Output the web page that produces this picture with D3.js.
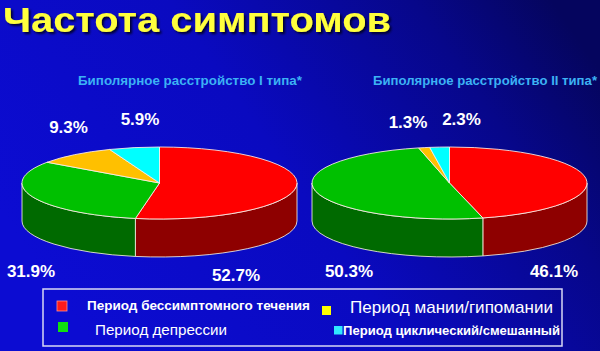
<!DOCTYPE html>
<html><head><meta charset="utf-8">
<script src="https://cdn.jsdelivr.net/npm/d3@7"></script>
<style>html,body{margin:0;padding:0;background:#0808a0;overflow:hidden}</style>
</head><body>
<script>
// ---------- data ----------
const title = "Частота симптомов";
const categories = ["Период бессимптомного течения","Период депрессии","Период мании/гипомании","Период циклический/смешанный"];
const pieTitles = ["Биполярное расстройство I типа*","Биполярное расстройство II типа*"];
const valuesType1 = [52.7, 31.9, 9.3, 5.9];
const valuesType2 = [46.1, 50.3, 1.3, 2.3];
const labelsType1 = ["52.7%","31.9%","9.3%","5.9%"];
const labelsType2 = ["46.1%","50.3%","1.3%","2.3%"];

// ---------- styles / layout ----------
const W = 600, H = 351;
const topColors  = ["#ff0000","#00c000","#ffc000","#00ffff"];
const sideColors = ["#8e0000","#006a00","#9a7400","#009a9a"];
const legendColors = ["#ff1a1a","#10e010","#ffff00","#30e8ff"];
const pies = [
  {cx:159.5, values:valuesType1, labels:labelsType1, title:pieTitles[0],
   labelOff:[[76.5,92],[-128.5,88],[-91,-56],[-19.5,-64]], titleX:190},
  {cx:449.5, values:valuesType2, labels:labelsType2, title:pieTitles[1],
   labelOff:[[104.5,88],[-100.5,88],[-41.5,-61],[12,-64]], titleX:485}
];
const CY = 183, RX = 137.5, RY = 36, DEPTH = 38;

const svg = d3.select("body").append("svg").attr("width",W).attr("height",H)
  .style("display","block");
const defs = svg.append("defs");
const bg = defs.append("linearGradient").attr("id","bg")
  .attr("x1","0").attr("y1","0.6").attr("x2","1").attr("y2","0.2");
bg.append("stop").attr("offset","0").attr("stop-color","#0c0cd2");
bg.append("stop").attr("offset","0.45").attr("stop-color","#0a0ac0");
bg.append("stop").attr("offset","0.8").attr("stop-color","#07078a");
bg.append("stop").attr("offset","1").attr("stop-color","#05055e");
const sh = defs.append("filter").attr("id","shadow").attr("x","-5%").attr("y","-20%")
  .attr("width","110%").attr("height","150%");
sh.append("feDropShadow").attr("dx",2).attr("dy",2).attr("stdDeviation",0.8)
  .attr("flood-color","#000020").attr("flood-opacity",0.9);
svg.append("rect").attr("width",W).attr("height",H).attr("fill","url(#bg)");

// title
svg.append("text").attr("x",3).attr("y",32).text(title)
  .attr("font-family","Liberation Sans, Arial, sans-serif").attr("font-weight","bold")
  .attr("font-size",35).attr("fill","#ffff3c").attr("filter","url(#shadow)")
  .attr("textLength",388).attr("lengthAdjust","spacingAndGlyphs");

const pieGen = d3.pie().sort(null).startAngle(0).endAngle(2*Math.PI);

function pt(cx, cy, a){ return [cx + RX*Math.sin(a), cy - RY*Math.cos(a)]; }

pies.forEach(p => {
  const arcs = pieGen(p.values);
  const g = svg.append("g");
  // side walls (front half: angle between PI/2 and 3PI/2)
  arcs.forEach((d,i) => {
    const a0 = Math.max(d.startAngle, Math.PI/2), a1 = Math.min(d.endAngle, 3*Math.PI/2);
    if (a1 <= a0) return;
    const p0 = pt(p.cx, CY, a0), p1 = pt(p.cx, CY, a1);
    const large = (a1 - a0) > Math.PI ? 1 : 0;
    const path = `M${p0[0]},${p0[1]} A${RX},${RY} 0 ${large} 1 ${p1[0]},${p1[1]}` +
      ` L${p1[0]},${p1[1]+DEPTH} A${RX},${RY} 0 ${large} 0 ${p0[0]},${p0[1]+DEPTH} Z`;
    g.append("path").attr("d",path).attr("fill",sideColors[i])
      .attr("stroke","#f4eedc").attr("stroke-opacity",0.85).attr("stroke-width",1);
  });
  // top faces
  arcs.forEach((d,i) => {
    const p0 = pt(p.cx, CY, d.startAngle), p1 = pt(p.cx, CY, d.endAngle);
    const large = (d.endAngle - d.startAngle) > Math.PI ? 1 : 0;
    const path = `M${p.cx},${CY} L${p0[0]},${p0[1]} A${RX},${RY} 0 ${large} 1 ${p1[0]},${p1[1]} Z`;
    g.append("path").attr("d",path).attr("fill",topColors[i])
      .attr("stroke","#fff0e8").attr("stroke-opacity",0.85).attr("stroke-width",1)
      .attr("stroke-linejoin","round");
  });
  // pie title
  svg.append("text").attr("x",p.titleX).attr("y",85).attr("text-anchor","middle")
    .attr("font-family","Liberation Sans, Arial, sans-serif").attr("font-weight","bold")
    .attr("font-size",12).attr("fill","#3cb2f4")
    .attr("textLength",224).attr("lengthAdjust","spacingAndGlyphs").text(p.title);
  // value labels
  p.labels.forEach((t,i) => {
    svg.append("text").attr("x",p.cx + p.labelOff[i][0]).attr("y",CY + p.labelOff[i][1] + 6)
      .attr("text-anchor","middle")
      .attr("font-family","Liberation Sans, Arial, sans-serif").attr("font-weight","bold")
      .attr("font-size",17).attr("fill","#ffffff").text(t);
  });
});

// legend
svg.append("rect").attr("x",43).attr("y",289).attr("width",519).attr("height",57)
  .attr("fill","none").attr("stroke","#d8d8f4").attr("stroke-width",1.5);
const legendLayout = [
  {sx:57, sy:301, s:10, tx:87, ty:309.5, fs:12.6, fw:"bold", tl:223},
  {sx:58, sy:322, s:10, tx:95, ty:334.5, fs:15, fw:"normal", tl:132},
  {sx:322, sy:306, s:9, tx:350, ty:313, fs:17, fw:"normal", tl:203},
  {sx:334, sy:326, s:8.5, tx:343, ty:334.5, fs:12.4, fw:"bold", tl:217}
];
categories.forEach((c,i) => {
  const L = legendLayout[i];
  svg.append("rect").attr("x",L.sx).attr("y",L.sy).attr("width",L.s).attr("height",L.s)
    .attr("fill",legendColors[i]).attr("stroke", i===0 ? "#ff9090" : "none").attr("stroke-width",0.8);
  svg.append("text").attr("x",L.tx).attr("y",L.ty)
    .attr("font-family","Liberation Sans, Arial, sans-serif").attr("font-weight",L.fw)
    .attr("font-size",L.fs).attr("fill","#ffffff")
    .attr("textLength",L.tl).attr("lengthAdjust","spacingAndGlyphs").text(c);
});
</script>
</body></html>
